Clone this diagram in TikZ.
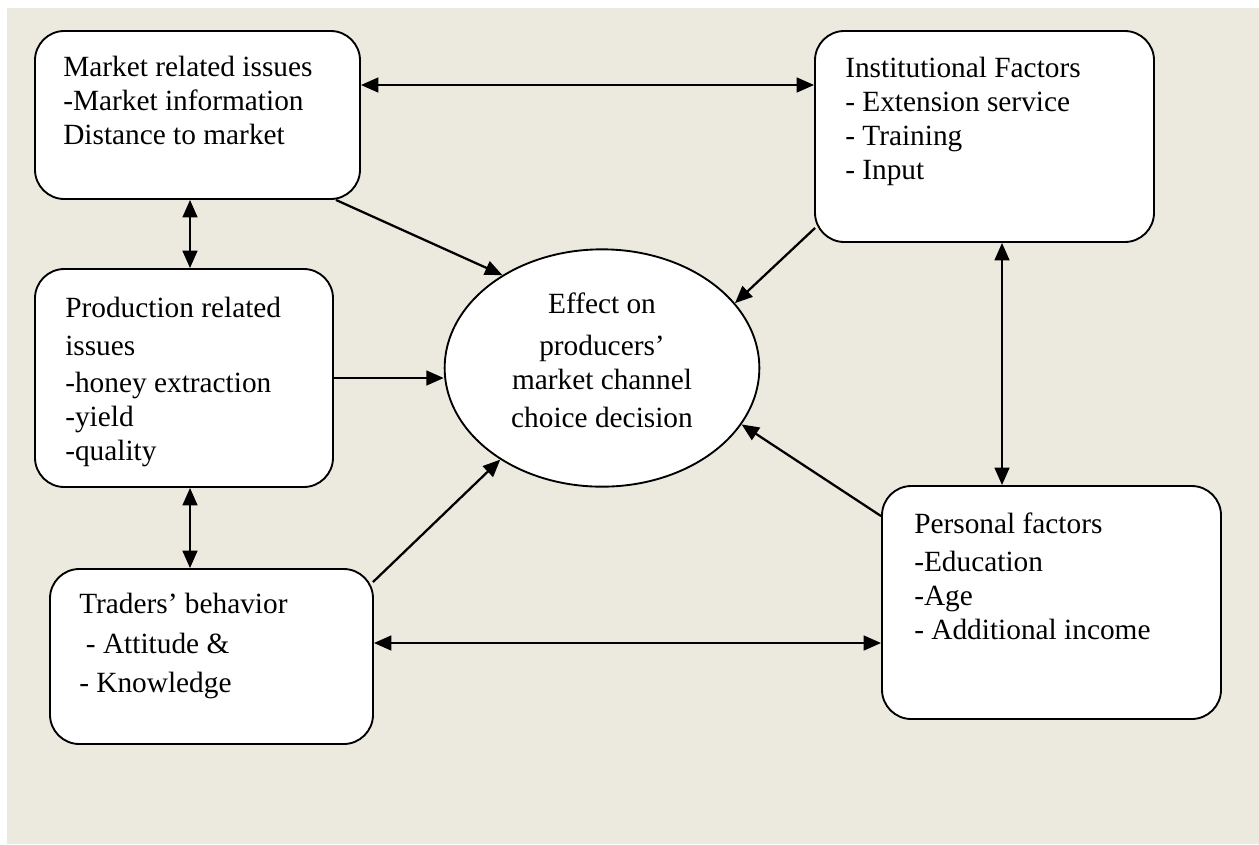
\documentclass[tikz,border=0pt]{standalone}
\usepackage{fontspec}
\setmainfont{Liberation Serif}
\usetikzlibrary{arrows.meta,shapes.geometric,calc}
\definecolor{paper}{HTML}{ECE9DF}
\begin{document}
\begin{tikzpicture}[x=0.75pt,y=-0.75pt,
  factor/.style={draw=black,line width=1.4pt,fill=white,rounded corners=22pt,inner sep=0pt},
  txt/.style={anchor=base west,inner sep=0pt,font=\fontsize{22}{25.5}\selectfont},
  ctxt/.style={anchor=base,inner sep=0pt,font=\fontsize{22}{25.5}\selectfont},
  oneway/.style={line width=1.7pt,-{Triangle[length=13pt,width=11pt]}},
  twoway/.style={line width=1.7pt,{Triangle[length=13pt,width=11pt]}-{Triangle[length=13pt,width=11pt]}}
]
\newcommand\ctr[1]{\hbox to 0pt{\hss #1\hss}}
% page and background
\useasboundingbox (0,0) rectangle (1259,844);
\fill[paper] (7,8) rectangle (1259,844);

% factor boxes
\node[factor,minimum width=243.75pt,minimum height=126pt] (mkt) at (197.5,115) {};
\node[factor,minimum width=254.25pt,minimum height=158.25pt] (inst) at (984.5,136.5) {};
\node[factor,minimum width=223.5pt,minimum height=163.5pt] (prod) at (184,378) {};
\node[factor,minimum width=242.25pt,minimum height=131.25pt] (trad) at (211.5,656.5) {};
\node[factor,minimum width=254.25pt,minimum height=174.75pt] (pers) at (1051.5,602.5) {};
\node[ellipse,draw=black,line width=1.4pt,fill=white,minimum width=236pt,minimum height=178pt,inner sep=0pt] (eff) at (602,368) {};

% box texts
\node[txt] (mkt-t) at (63,76) {\vtop{\hbox{Market related issues}\hbox{-Market information}\hbox{Distance to market}}};
\node[txt] (inst-t) at (845,77) {\vtop{\hbox{Institutional Factors}\hbox{- Extension service}\hbox{- Training}\hbox{- Input}}};
\node[txt] (prod-t) at (65,317) {\vtop{\hbox{Production related}\vskip3.5pt\hbox{issues}\vskip2pt\hbox{-honey extraction}\hbox{-yield}\hbox{-quality}}};
\node[txt] (trad-t) at (79,613) {\vtop{\hbox{Traders’ behavior}\vskip4.5pt\hbox{\kern5pt- Attitude \&}\vskip4pt\hbox{- Knowledge}}};
\node[txt] (pers-t) at (914,533) {\vtop{\hbox{Personal factors}\vskip3.5pt\hbox{-Education}\hbox{-Age}\hbox{- Additional income}}};
\node[ctxt] (eff-t) at (602,313) {\vtop{\ctr{Effect on}\vskip6pt\ctr{producers’}\ctr{market channel}\vskip3.5pt\ctr{choice decision}}};

% two-way links between factors
\coordinate (rowA) at (0,85);
\coordinate (rowB) at (0,643);
\coordinate (colA) at (190,0);
\coordinate (colB) at (1002,0);
\draw[twoway] (mkt.east |- rowA) -- (inst.west |- rowA);
\draw[twoway] (mkt.south -| colA) -- (prod.north -| colA);
\draw[twoway] (prod.south -| colA) -- (trad.north -| colA);
\draw[twoway] (trad.east |- rowB) -- (pers.west |- rowB);
\draw[twoway] (inst.south -| colB) -- (pers.north -| colB);

% influences on the decision
\draw[oneway] ($(mkt.south east)+(-25,0)$) -- (eff.137);
\draw[oneway] ($(inst.south west)+(1,-15)$) -- (eff.26);
\draw[oneway] (prod.east) -- (prod.east -| eff.west);
\draw[oneway] ($(trad.north east)+(-1,14)$) -- (eff.222);
\draw[oneway] ($(pers.north west)+(0,31)$) -- (eff.338);
\end{tikzpicture}
\end{document}
